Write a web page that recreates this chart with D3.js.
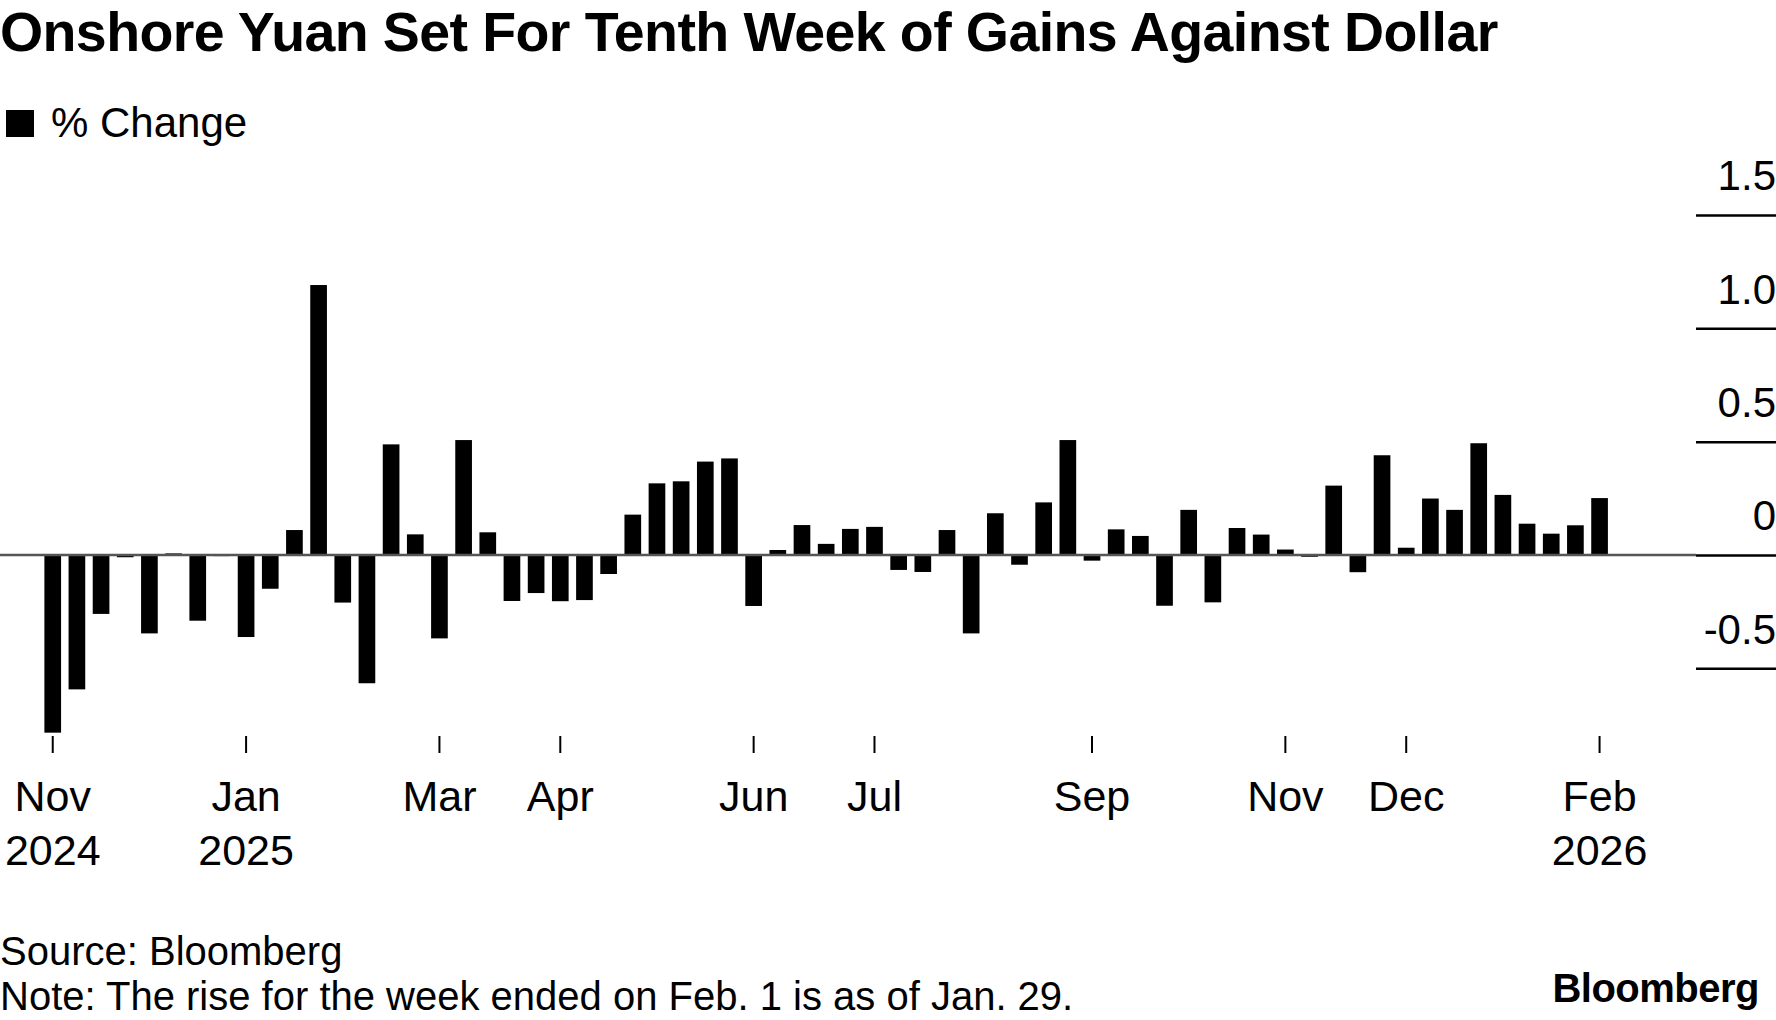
<!DOCTYPE html>
<html>
<head>
<meta charset="utf-8">
<script src="https://cdn.jsdelivr.net/npm/d3@7"></script>
<style>
  body { margin: 0; background: #fff; }
  svg { display: block; font-family: "Liberation Sans", Arial, sans-serif; }
</style>
</head>
<body>
<div id="chart"></div>
<script>
// weekly % change of onshore yuan vs dollar (week ending)
const weeks = [
  '2024-11-10','2024-11-17','2024-11-24','2024-12-01','2024-12-08','2024-12-15','2024-12-22','2024-12-29',
  '2025-01-05','2025-01-12','2025-01-19','2025-01-26','2025-02-02','2025-02-09','2025-02-16','2025-02-23',
  '2025-03-02','2025-03-09','2025-03-16','2025-03-23','2025-03-30','2025-04-06','2025-04-13','2025-04-20',
  '2025-04-27','2025-05-04','2025-05-11','2025-05-18','2025-05-25','2025-06-01','2025-06-08','2025-06-15',
  '2025-06-22','2025-06-29','2025-07-06','2025-07-13','2025-07-20','2025-07-27','2025-08-03','2025-08-10',
  '2025-08-17','2025-08-24','2025-08-31','2025-09-07','2025-09-14','2025-09-21','2025-09-28','2025-10-05',
  '2025-10-12','2025-10-19','2025-10-26','2025-11-02','2025-11-09','2025-11-16','2025-11-23','2025-11-30',
  '2025-12-07','2025-12-14','2025-12-21','2025-12-28','2026-01-04','2026-01-11','2026-01-18','2026-01-25',
  '2026-02-01'
];
const pctChange = [
  -0.784, -0.593, -0.260, -0.010, -0.346, 0.007, -0.290, -0.005,
  -0.362, -0.149, 0.110, 1.191, -0.210, -0.566, 0.488, 0.091,
  -0.368, 0.507, 0.100, -0.203, -0.168, -0.204, -0.199, -0.084,
  0.178, 0.316, 0.325, 0.412, 0.426, -0.225, 0.022, 0.132,
  0.049, 0.115, 0.124, -0.066, -0.075, 0.110, -0.346, 0.184,
  -0.043, 0.232, 0.507, -0.025, 0.113, 0.084, -0.224, 0.199,
  -0.209, 0.119, 0.090, 0.024, -0.008, 0.306, -0.076, 0.440,
  0.032, 0.249, 0.199, 0.493, 0.265, 0.138, 0.094, 0.131,
  0.251
];
// x tick labels (first week of the month shown)
const tickWeeks = ['2024-11-10','2025-01-05','2025-03-02','2025-04-06','2025-06-01','2025-07-06','2025-09-07','2025-11-02','2025-12-07','2026-02-01'];
const tickMonths = ['Nov','Jan','Mar','Apr','Jun','Jul','Sep','Nov','Dec','Feb'];
const tickYears = ['2024','2025','','','','','','','','2026'];
const yTicks = [-0.5, 0, 0.5, 1.0, 1.5];

const data = weeks.map((w, i) => ({week: w, value: pctChange[i]}));

const width = 1776, height = 1020;
const svg = d3.select('#chart').append('svg')
  .attr('width', width)
  .attr('height', height);

// scales
const x = d3.scaleBand()
  .domain(weeks)
  .range([36.9, 1615.4])
  .padding(0.31);
const y = d3.scaleLinear()
  .domain([-0.5, 1.5])
  .range([668.3, 215]);

// title
svg.append('text')
  .attr('x', 0)
  .attr('y', 51)
  .style('font-size', '55.5px')
  .style('font-weight', 'bold')
  .style('letter-spacing', '-0.6px')
  .attr('fill', '#000')
  .text('Onshore Yuan Set For Tenth Week of Gains Against Dollar');

// legend
svg.append('rect')
  .attr('x', 6).attr('y', 110)
  .attr('width', 28).attr('height', 27)
  .attr('fill', '#000');
svg.append('text')
  .attr('x', 51).attr('y', 137)
  .style('font-size', '42px')
  .text('% Change');

// y axis on the right: short gridlines, labels above them
const yAxis = svg.append('g')
  .attr('transform', 'translate(1696,0)')
  .call(d3.axisRight(y)
    .tickValues(yTicks)
    .tickSize(80)
    .tickFormat(d => d === 0 ? '0' : (d < 0 ? '-' : '') + Math.abs(d).toFixed(1)))
  .call(g => g.select('.domain').remove());
yAxis.selectAll('.tick line')
  .attr('stroke', '#000')
  .attr('stroke-width', 2.5);
yAxis.selectAll('.tick text')
  .attr('x', 80)
  .attr('dy', '-0.6em')
  .attr('text-anchor', 'end')
  .attr('fill', '#000')
  .style('font-size', '42px')
  .style('font-family', '"Liberation Sans", Arial, sans-serif');

// bars
svg.selectAll('.bar')
  .data(data)
  .join('rect')
  .attr('class', 'bar')
  .attr('x', d => x(d.week))
  .attr('width', x.bandwidth())
  .attr('y', d => y(Math.max(0, d.value)))
  .attr('height', d => Math.abs(y(d.value) - y(0)))
  .attr('fill', '#000');

// zero line across the plot
svg.append('line')
  .attr('x1', 0).attr('x2', 1696)
  .attr('y1', y(0)).attr('y2', y(0))
  .attr('stroke', '#555')
  .attr('stroke-width', 2.5);

// x axis ticks and month labels
const xAxis = svg.append('g')
  .attr('transform', 'translate(0,736)')
  .call(d3.axisBottom(x)
    .tickValues(tickWeeks)
    .tickSize(17)
    .tickFormat(''))
  .call(g => g.select('.domain').remove());
xAxis.selectAll('.tick line')
  .attr('stroke', '#000')
  .attr('stroke-width', 2);
xAxis.selectAll('.tick text').remove();
xAxis.selectAll('.tick').each(function(d) {
  const i = tickWeeks.indexOf(d);
  const t = d3.select(this).append('text')
    .attr('text-anchor', 'middle')
    .attr('fill', '#000')
    .style('font-size', '43px')
    .style('font-family', '"Liberation Sans", Arial, sans-serif');
  t.append('tspan').attr('x', 0).attr('y', 75).text(tickMonths[i]);
  if (tickYears[i]) t.append('tspan').attr('x', 0).attr('y', 129).text(tickYears[i]);
});

// footer
svg.append('text')
  .attr('x', 0).attr('y', 965)
  .style('font-size', '40px')
  .text('Source: Bloomberg');
svg.append('text')
  .attr('x', 0).attr('y', 1010)
  .style('font-size', '40px')
  .text('Note: The rise for the week ended on Feb. 1 is as of Jan. 29.');
svg.append('text')
  .attr('x', 1759).attr('y', 1002)
  .attr('text-anchor', 'end')
  .style('font-size', '40px')
  .style('font-weight', 'bold')
  .style('letter-spacing', '-0.5px')
  .text('Bloomberg');
</script>
</body>
</html>
